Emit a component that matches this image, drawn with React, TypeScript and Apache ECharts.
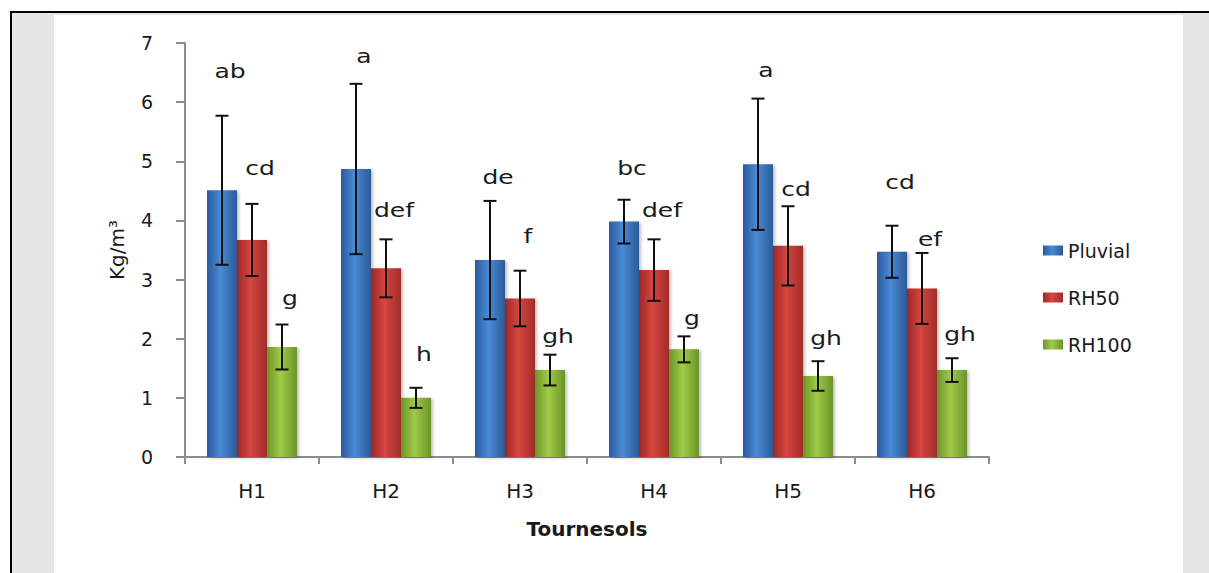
import React, { useEffect, useRef } from "react";
import * as echarts from "echarts";

const categories = ["H1", "H2", "H3", "H4", "H5", "H6"];
const seriesNames = ["Pluvial", "RH50", "RH100"];
const pluvial = [4.51, 4.87, 3.33, 3.98, 4.95, 3.47];
const pluvialErr = [1.26, 1.44, 1.0, 0.37, 1.11, 0.44];
const rh50 = [3.67, 3.19, 2.68, 3.16, 3.57, 2.85];
const rh50Err = [0.61, 0.49, 0.47, 0.52, 0.67, 0.6];
const rh100 = [1.86, 1.0, 1.47, 1.82, 1.37, 1.47];
const rh100Err = [0.38, 0.17, 0.26, 0.22, 0.25, 0.2];
const pluvialLetters = ["ab", "a", "de", "bc", "a", "cd"];
const rh50Letters = ["cd", "def", "f", "def", "cd", "ef"];
const rh100Letters = ["g", "h", "gh", "g", "gh", "gh"];
const pluvialLetterAt = [6.53, 6.78, 4.73, 4.89, 6.54, 4.65];
const rh50LetterAt = [4.89, 4.18, 3.74, 4.18, 4.53, 3.69];
const rh100LetterAt = [2.69, 1.74, 2.05, 2.35, 2.01, 2.08];
const yTicks = [0, 1, 2, 3, 4, 5, 6, 7];

const values = [pluvial, rh50, rh100];
const errs = [pluvialErr, rh50Err, rh100Err];
const letters = [pluvialLetters, rh50Letters, rh100Letters];
const letterAt = [pluvialLetterAt, rh50LetterAt, rh100LetterAt];

const BAR_W = 30;

const grad = (a: string, b: string, c: string) =>
  new echarts.graphic.LinearGradient(0, 0, 1, 0, [
    { offset: 0, color: a },
    { offset: 0.45, color: b },
    { offset: 1, color: c },
  ]);

const colors = [
  grad("#2a5a9c", "#4a8ad6", "#2b5b98"),
  grad("#9c2826", "#d6463f", "#a02c29"),
  grad("#6c9628", "#a2ca48", "#6b9428"),
];

export default function App() {
  const ref = useRef<HTMLDivElement>(null);

  useEffect(() => {
    document.body.style.margin = "0";
    const chart = echarts.init(ref.current!, null, { renderer: "svg" });

    const barSeries = seriesNames.map((name, s) => ({
      name,
      type: "bar",
      data: values[s],
      barWidth: BAR_W,
      barGap: "0%",
      itemStyle: {
        color: colors[s],
        shadowColor: "rgba(0,0,0,0.25)",
        shadowBlur: 3,
        shadowOffsetX: 2,
        shadowOffsetY: 1,
      },
      z: 2,
    }));

    const errSeries = seriesNames.map((name, s) => ({
      name: name + " err",
      type: "custom",
      z: 5,
      data: categories.map((_, i) => [i, values[s][i], errs[s][i], letterAt[s][i]]),
      renderItem: (params: any, api: any) => {
        const idx = api.value(0);
        const v = api.value(1);
        const e = api.value(2);
        const ly = api.value(3);
        const cx = api.coord([idx, 0])[0] + (s - 1) * BAR_W;
        const top = api.coord([idx, v + e])[1];
        const bot = api.coord([idx, v - e])[1];
        const yl = api.coord([idx, ly])[1];
        const ls = { stroke: "#111", lineWidth: 2 };
        const cap = 6.5;
        return {
          type: "group",
          children: [
            { type: "line", shape: { x1: cx, y1: top, x2: cx, y2: bot }, style: ls },
            { type: "line", shape: { x1: cx - cap, y1: top, x2: cx + cap, y2: top }, style: ls },
            { type: "line", shape: { x1: cx - cap, y1: bot, x2: cx + cap, y2: bot }, style: ls },
            {
              type: "text",
              x: cx + 8,
              y: yl,
              scaleX: 1.25,
              style: {
                text: letters[s][params.dataIndex],
                x: 0,
                y: 0,
                align: "center",
                verticalAlign: "middle",
                fontSize: 20,
                fontFamily: "DejaVu Sans",
                fill: "#1a1a1a",
              },
            },
          ],
        };
      },
    }));

    chart.setOption({
      animation: false,
      grid: { left: 185, top: 43, width: 804, height: 414 },
      legend: {
        data: seriesNames,
        orient: "vertical",
        left: 1038,
        top: 236,
        itemWidth: 20,
        itemHeight: 10,
        itemGap: 28,
        icon: "rect",
        textStyle: {
          fontSize: 19,
          fontFamily: "DejaVu Sans",
          color: "#1a1a1a",
          lineHeight: 19,
        },
      },
      xAxis: {
        type: "category",
        data: categories,
        name: "Tournesols",
        nameLocation: "middle",
        nameGap: 62,
        nameTextStyle: {
          fontSize: 20,
          fontWeight: "bold",
          fontFamily: "DejaVu Sans",
          color: "#1a1a1a",
        },
        axisLine: { lineStyle: { color: "#8c8c8c", width: 2 } },
        axisTick: { show: true, length: 7, lineStyle: { color: "#8c8c8c", width: 2 } },
        axisLabel: {
          margin: 24,
          fontSize: 20,
          fontFamily: "DejaVu Sans",
          color: "#1a1a1a",
        },
      },
      yAxis: {
        type: "value",
        min: yTicks[0],
        max: yTicks[yTicks.length - 1],
        interval: 1,
        name: "Kg/m³",
        nameLocation: "middle",
        nameGap: 58,
        nameTextStyle: {
          fontSize: 20,
          fontFamily: "DejaVu Sans",
          color: "#1a1a1a",
        },
        axisLine: { show: true, lineStyle: { color: "#8c8c8c", width: 2 } },
        axisTick: { show: true, length: 9, lineStyle: { color: "#8c8c8c", width: 2 } },
        splitLine: { show: false },
        axisLabel: {
          margin: 32,
          fontSize: 19,
          fontFamily: "DejaVu Sans",
          color: "#1a1a1a",
        },
      },
      series: [...barSeries, ...errSeries],
    });

    return () => chart.dispose();
  }, []);

  return (
    <div style={{ position: "relative", width: 1209, height: 573, background: "#fff", overflow: "hidden" }}>
      <div
        style={{
          position: "absolute",
          left: 10,
          top: 11,
          right: 0,
          bottom: 0,
          background: "#e6e6e6",
          borderTop: "2px solid #000",
          borderLeft: "2px solid #000",
        }}
      />
      <div
        style={{
          position: "absolute",
          left: 54,
          top: 15,
          width: 1129,
          bottom: 0,
          background: "#fff",
        }}
      />
      <div ref={ref} style={{ position: "absolute", left: 0, top: 0, width: 1209, height: 573 }} />
    </div>
  );
}
